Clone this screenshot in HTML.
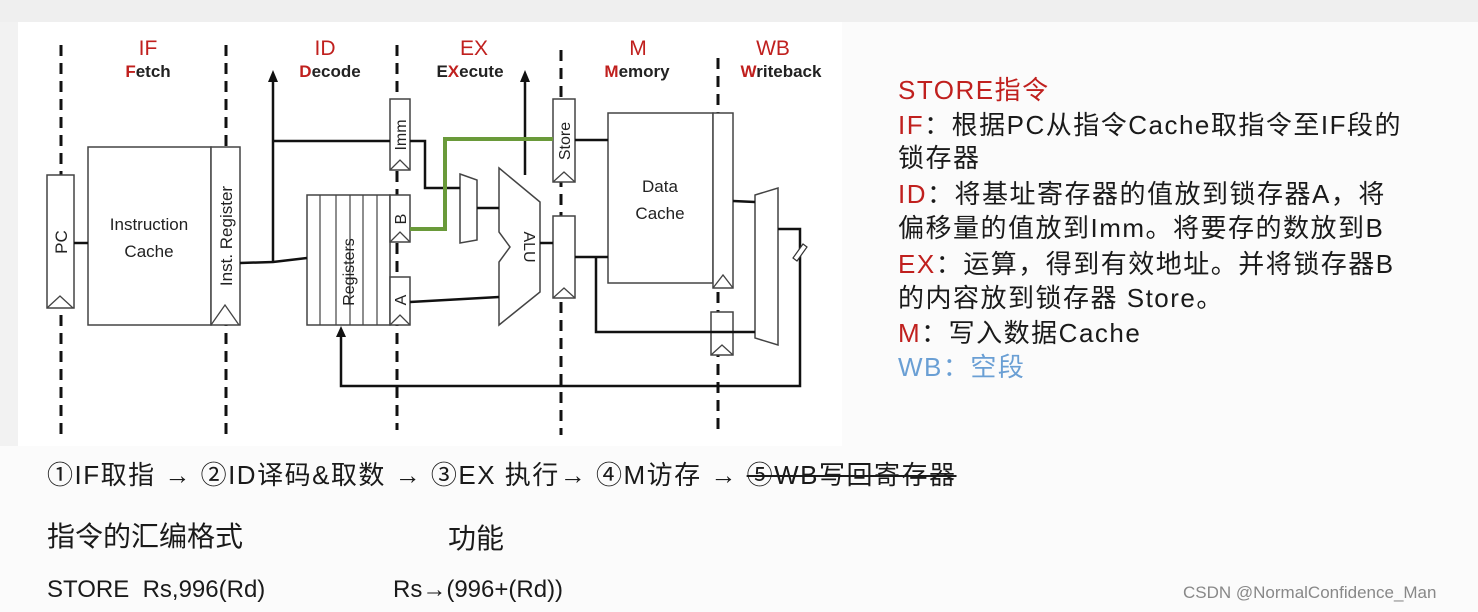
<!DOCTYPE html>
<html><head><meta charset="utf-8">
<style>
body{margin:0;width:1478px;height:612px;background:#fbfbfb;position:relative;overflow:hidden;font-family:"Liberation Sans","Noto Sans CJK SC",sans-serif;}
.t{position:absolute;white-space:nowrap;font-size:26px;letter-spacing:1.5px;color:#1a1a1a;line-height:1;}
.r{color:#c0201e}
.b{color:#6a9fd4}
.ar{font-weight:bold}
</style></head><body>
<div style="position:absolute;left:0;top:0;width:1478px;height:22px;background:#efefef"></div>
<div style="position:absolute;left:0;top:22px;width:18px;height:424px;background:#f2f2f2"></div>
<svg style="position:absolute;left:0;top:0" width="1478" height="612" xmlns="http://www.w3.org/2000/svg">
<rect x="18" y="22" width="824" height="424" fill="#fff"/>
<g stroke="#111" stroke-width="3" stroke-dasharray="11,7">
<line x1="61" y1="45" x2="61" y2="440"/>
<line x1="226" y1="45" x2="226" y2="440"/>
<line x1="397" y1="45" x2="397" y2="430"/>
<line x1="561" y1="50" x2="561" y2="435"/>
<line x1="718" y1="58" x2="718" y2="435"/>
</g>
<g font-family="Liberation Sans, sans-serif" text-anchor="middle">
<g fill="#c0201e" font-size="21"><text x="148" y="55">IF</text><text x="325" y="55">ID</text><text x="474" y="55">EX</text><text x="638" y="55">M</text><text x="773" y="55">WB</text></g>
<g font-size="17" fill="#222" font-weight="bold"><text x="148" y="77"><tspan fill="#c0201e">F</tspan>etch</text><text x="330" y="77"><tspan fill="#c0201e">D</tspan>ecode</text><text x="470" y="77">E<tspan fill="#c0201e">X</tspan>ecute</text><text x="637" y="77"><tspan fill="#c0201e">M</tspan>emory</text><text x="781" y="77"><tspan fill="#c0201e">W</tspan>riteback</text></g>
</g>
<g fill="#fff" stroke="#444" stroke-width="1.5">
<rect x="47" y="175" width="27" height="133"/>
<rect x="88" y="147" width="123" height="178"/>
<rect x="211" y="147" width="29" height="178"/>
<rect x="307" y="195" width="83" height="130"/>
<rect x="390" y="99" width="20" height="71"/>
<rect x="390" y="195" width="20" height="47"/>
<rect x="390" y="277" width="20" height="48"/>
<rect x="553" y="99" width="22" height="83"/>
<rect x="553" y="216" width="22" height="82"/>
<rect x="608" y="113" width="105" height="170"/>
<rect x="713" y="113" width="20" height="175"/>
<rect x="711" y="312" width="22" height="43"/>
<polygon points="755,195 778,188 778,345 755,338"/>
<polygon points="460,174 477,180 477,240 460,243"/>
<polygon points="499,168 540,202 540,292 499,325 499,262 510,247 499,232"/>
</g>
<g stroke="#444" stroke-width="1.2">
<line x1="320" y1="195" x2="320" y2="325"/><line x1="336" y1="195" x2="336" y2="325"/><line x1="350" y1="195" x2="350" y2="325"/><line x1="363" y1="195" x2="363" y2="325"/><line x1="377" y1="195" x2="377" y2="325"/>
</g>
<g fill="none" stroke="#444" stroke-width="1.3">
<polyline points="47,308 60,296 73,308"/><polyline points="211,325 225,305 239,325"/>
<polyline points="390,170 400,160 410,170"/><polyline points="390,242 400,232 410,242"/><polyline points="390,325 400,315 410,325"/>
<polyline points="553,182 564,172 575,182"/><polyline points="553,298 564,288 575,298"/>
<polyline points="713,288 723,275 733,288"/><polyline points="711,355 722,345 733,355"/>
</g>
<g stroke="#111" stroke-width="2.5" fill="none">
<line x1="74" y1="243" x2="88" y2="243"/>
<polyline points="240,263 273,262 307,258"/>
<line x1="273" y1="262" x2="273" y2="80"/>
<line x1="273" y1="141" x2="390" y2="141"/>
<polyline points="410,141 425,141 425,188 460,188"/>
<line x1="525" y1="175" x2="525" y2="80"/>
<line x1="477" y1="208" x2="499" y2="208"/>
<line x1="410" y1="302" x2="499" y2="297"/>
<line x1="540" y1="243" x2="553" y2="243"/>
<line x1="575" y1="140" x2="608" y2="140"/>
<line x1="575" y1="257" x2="608" y2="257"/>
<polyline points="596,257 596,332 755,332"/>
<line x1="733" y1="201" x2="755" y2="202"/>
<polyline points="778,229 800,229 800,386 341,386 341,335"/>
</g>
<g fill="#111"><polygon points="268,82 273,70 278,82"/><polygon points="520,82 525,70 530,82"/><polygon points="336,337 341,326 346,337"/></g>
<polyline points="410,229 445,229 445,139 553,139" fill="none" stroke="#6a9a3a" stroke-width="4"/>
<path d="M793,258 l10,-14 l4,3 l-10,14 z" fill="#fff" stroke="#333" stroke-width="1.2"/>
<g font-family="Liberation Sans, sans-serif" font-size="17" fill="#222" text-anchor="middle">
<text x="149" y="230">Instruction</text><text x="149" y="257">Cache</text>
<text x="660" y="192">Data</text><text x="660" y="219">Cache</text>
<text transform="translate(67,242) rotate(-90)">PC</text>
<text transform="translate(232,236) rotate(-90)">Inst. Register</text>
<text transform="translate(354,272) rotate(-90)" font-size="16">Registers</text>
<text transform="translate(406,135) rotate(-90)" font-size="16">Imm</text>
<text transform="translate(406,219) rotate(-90)" font-size="16">B</text>
<text transform="translate(406,300) rotate(-90)" font-size="16">A</text>
<text transform="translate(570,141) rotate(-90)" font-size="16">Store</text>
<text transform="translate(524,247) rotate(90)" font-size="16">ALU</text>
</g>
</svg>
<div class="t r" style="left:898px;top:77px">STORE指令</div>
<div class="t" style="left:898px;top:112px"><span class="r">IF</span>：根据PC从指令Cache取指令至IF段的</div>
<div class="t" style="left:898px;top:145px">锁存器</div>
<div class="t" style="left:898px;top:181px"><span class="r">ID</span>：将基址寄存器的值放到锁存器A，将</div>
<div class="t" style="left:898px;top:215px">偏移量的值放到Imm。将要存的数放到B</div>
<div class="t" style="left:898px;top:251px"><span class="r">EX</span>：运算，得到有效地址。并将锁存器B</div>
<div class="t" style="left:898px;top:285px">的内容放到锁存器 Store。</div>
<div class="t" style="left:898px;top:320px"><span class="r">M</span>：写入数据Cache</div>
<div class="t b" style="left:898px;top:354px">WB：空段</div>
<div class="t" style="left:47px;top:462px">①IF取指 <span class="ar">→</span> ②ID译码&amp;取数 <span class="ar">→</span> ③EX 执行<span class="ar">→</span> ④M访存 <span class="ar">→</span> <span style="text-decoration:line-through">⑤WB写回寄存器</span></div>
<div class="t" style="left:47px;top:523px;font-size:28px;letter-spacing:0">指令的汇编格式</div>
<div class="t" style="left:448px;top:525px;font-size:28px;letter-spacing:0">功能</div>
<div class="t" style="left:47px;top:578px;font-size:24px;letter-spacing:0">STORE&nbsp; Rs,996(Rd)</div>
<div class="t" style="left:393px;top:578px;font-size:24px;letter-spacing:0">Rs<span class="ar">→</span>(996+(Rd))</div>
<div class="t" style="left:1183px;top:584px;font-size:17px;letter-spacing:0;color:#888">CSDN @NormalConfidence_Man</div>
</body></html>
